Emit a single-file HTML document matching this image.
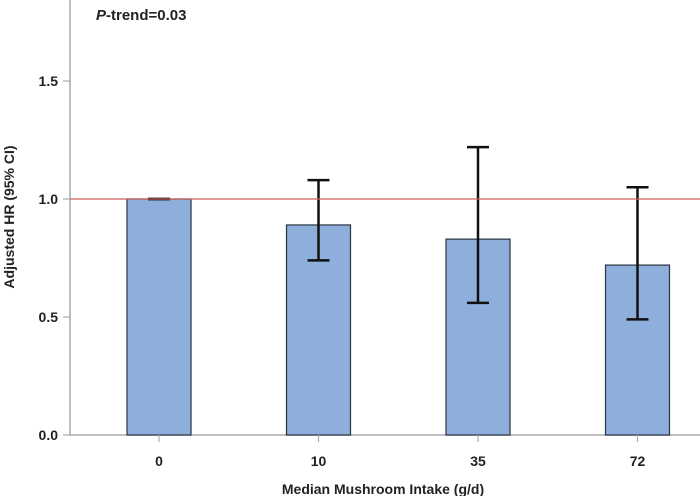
<!DOCTYPE html>
<html><head><meta charset="utf-8"><style>
body{margin:0;background:#fff;width:700px;height:496px;overflow:hidden}
text{font-family:"Liberation Sans",Arial,sans-serif;fill:#222}
</style></head><body>
<svg id="chart" width="700" height="496"></svg>
<script>
const categories=["0","10","35","72"];
const hrValues=[1.0,0.89,0.83,0.72];
const ciLower=[1.0,0.74,0.56,0.49];
const ciUpper=[1.0,1.08,1.22,1.05];
const yTicks=[0.0,0.5,1.0,1.5];
const yTickLabels=["0.0","0.5","1.0","1.5"];
const refValue=1.0;

const NS="http://www.w3.org/2000/svg";
const svg=document.getElementById('chart');
const y0=435,pxPer=236,x0=70,step=159.5,first=159,bw=64;
const y=v=>y0-v*pxPer;
const x=i=>first+i*step;
function mk(t,a,p){const e=document.createElementNS(NS,t);for(const k in a)e.setAttribute(k,a[k]);(p||svg).appendChild(e);return e;}

let e;
e=mk('line',{x1:x0,y1:0,x2:x0,y2:y0,stroke:'#aaa','stroke-width':1.5});


e=mk('line',{x1:x0,y1:y0,x2:700,y2:y0,stroke:'#aaa','stroke-width':1.5});



yTicks.forEach((v,i)=>{
  e=mk('line',{x1:x0-7,y1:y(v),x2:x0,y2:y(v),stroke:'#aaa','stroke-width':1.2});
  
  
  e=mk('text',{x:x0-12,y:y(v)+5,'text-anchor':'end','font-size':14,'font-weight':'bold'});
  e.textContent=yTickLabels[i];
  
  
});

categories.forEach((c,i)=>{
  e=mk('rect',{x:x(i)-bw/2,y:y(hrValues[i]),width:bw,height:y0-y(hrValues[i]),fill:'#8eaedb',stroke:'#2a3340','stroke-width':1.2});
  
  
  e=mk('line',{x1:x(i),y1:y0,x2:x(i),y2:y0+7,stroke:'#aaa','stroke-width':1.2});
  
  
  e=mk('text',{x:x(i),y:y0+31,'text-anchor':'middle','font-size':14,'font-weight':'bold'});
  e.textContent=c;
  
  
  const g=mk('g',{stroke:'#111','stroke-width':2.5});
  
  
  mk('line',{x1:x(i),y1:y(ciUpper[i]),x2:x(i),y2:y(ciLower[i])},g);
  mk('line',{x1:x(i)-11,y1:y(ciUpper[i]),x2:x(i)+11,y2:y(ciUpper[i])},g);
  mk('line',{x1:x(i)-11,y1:y(ciLower[i]),x2:x(i)+11,y2:y(ciLower[i])},g);
});

e=mk('line',{x1:x0,y1:y(refValue),x2:700,y2:y(refValue),stroke:'#c9605a','stroke-width':1.3});



e=mk('text',{x:96,y:20,'font-size':15,'font-weight':'bold'});
e.innerHTML='<tspan font-style="italic">P</tspan>-trend=0.03';



e=mk('text',{x:383,y:494,'text-anchor':'middle','font-size':14,'font-weight':'bold'});
e.textContent='Median Mushroom Intake (g/d)';



e=mk('text',{x:14,y:217,'text-anchor':'middle','font-size':14,'font-weight':'bold',transform:'rotate(-90 14 217)'});
e.textContent='Adjusted HR (95% CI)';


</script>
</body></html>
